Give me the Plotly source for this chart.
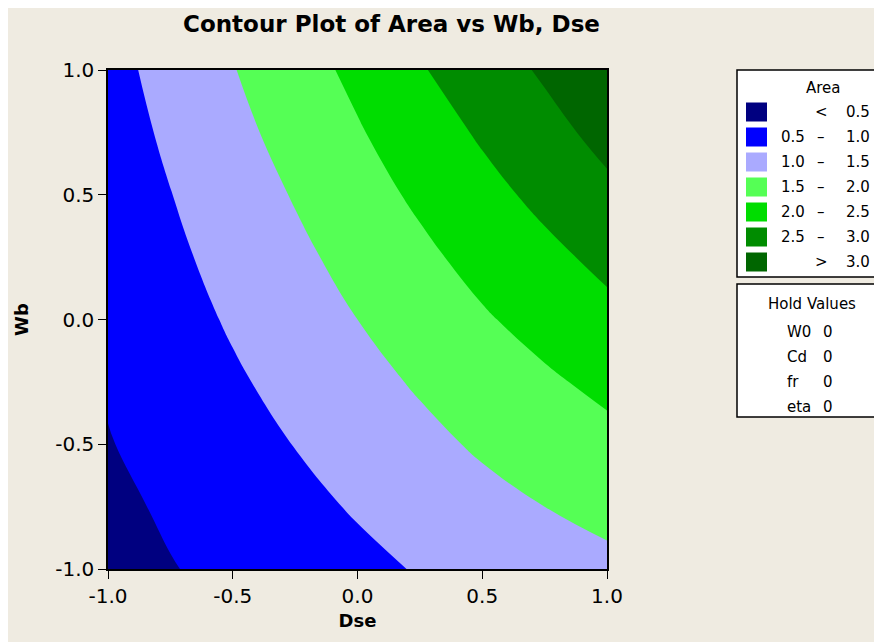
import plotly.graph_objects as go

# ---- data ----
dse = [-1.0, -0.75, -0.5, -0.25, 0.0, 0.25, 0.5, 0.75, 1.0]
wb = [-1.0, -0.75, -0.5, -0.25, 0.0, 0.25, 0.5, 0.75, 1.0]
# rows follow wb, columns follow dse
area = [
    [0.34, 0.48, 0.61, 0.75, 0.89, 1.03, 1.16, 1.28, 1.39],
    [0.40, 0.56, 0.72, 0.88, 1.04, 1.20, 1.36, 1.50, 1.63],
    [0.48, 0.65, 0.83, 1.01, 1.19, 1.38, 1.56, 1.71, 1.87],
    [0.54, 0.73, 0.94, 1.14, 1.35, 1.55, 1.75, 1.93, 2.11],
    [0.60, 0.82, 1.05, 1.27, 1.50, 1.73, 1.95, 2.16, 2.37],
    [0.66, 0.91, 1.15, 1.40, 1.65, 1.90, 2.15, 2.38, 2.62],
    [0.72, 0.99, 1.26, 1.53, 1.81, 2.08, 2.35, 2.62, 2.90],
    [0.78, 1.08, 1.37, 1.67, 1.96, 2.26, 2.56, 2.85, 3.14],
    [0.85, 1.16, 1.48, 1.80, 2.11, 2.46, 2.77, 3.06, 3.38],
]
level_start, level_end, level_step = 0.5, 3.0, 0.5
band_low = ["", "0.5", "1.0", "1.5", "2.0", "2.5", ""]
band_sym = ["<", "\u2013", "\u2013", "\u2013", "\u2013", "\u2013", ">"]
band_high = ["0.5", "1.0", "1.5", "2.0", "2.5", "3.0", "3.0"]
band_colors = ["#000080", "#0000FF", "#AAAAFF", "#55FF55", "#00DD00", "#008C00", "#006600"]
hold_names = ["W0", "Cd", "fr", "eta"]
hold_values = ["0", "0", "0", "0"]
tick_vals = [-1.0, -0.5, 0.0, 0.5, 1.0]
tick_text = ["-1.0", "-0.5", "0.0", "0.5", "1.0"]

W, H = 882, 642
OFF = 8  # default page body margin
# plot frame as seen on screen
SL, SR, ST, SB = 108, 607, 70, 569
BG = "#EFEBE1"
FONT = "DejaVu Sans"


def px(x):
    return (x - SL) / (SR - SL)


def py(y):
    return (SB - y) / (SB - ST)


n = len(band_colors)
colorscale = [[i / (n - 1), c] for i, c in enumerate(band_colors)]

fig = go.Figure(
    go.Contour(
        x=dse, y=wb, z=area,
        contours=dict(start=level_start, end=level_end, size=level_step,
                      coloring="fill", showlines=False),
        colorscale=colorscale,
        line=dict(width=0, smoothing=1.3),
        showscale=False,
        hoverinfo="skip",
    )
)

axis_common = dict(
    range=[-1, 1], tickvals=tick_vals, ticktext=tick_text,
    ticks="outside", ticklen=8, tickwidth=1.2, tickcolor="black",
    showline=True, linecolor="black", linewidth=1.5, mirror=True,
    showgrid=False, zeroline=False,
    tickfont=dict(family=FONT, size=20, color="black"),
)
fig.update_xaxes(**axis_common, title=dict(text="<b>Dse</b>", standoff=8,
                 font=dict(family=FONT, size=18, color="black")))
fig.update_yaxes(**axis_common, title=dict(text="<b>Wb</b>", standoff=22,
                 font=dict(family=FONT, size=18, color="black")))

shapes = []
annotations = []
LF = 15


def text(t, x, y, anchor="center"):
    annotations.append(dict(text=t, x=px(x), y=py(y), xref="paper", yref="paper",
                            showarrow=False, xanchor=anchor, yanchor="middle",
                            font=dict(family=FONT, size=LF, color="black")))


# legend box for Area
shapes.append(dict(type="rect", xref="paper", yref="paper",
                   x0=px(737), x1=px(905), y0=py(277), y1=py(70),
                   line=dict(color="black", width=1.5), fillcolor="white", layer="below"))
text("Area", 823, 88)
for i in range(n):
    yc = 112 + 25 * i
    shapes.append(dict(type="rect", xref="paper", yref="paper",
                       x0=px(746), x1=px(767), y0=py(yc + 9.5), y1=py(yc - 9.5),
                       line=dict(width=0), fillcolor=band_colors[i]))
    if band_low[i]:
        text(band_low[i], 793, yc)
    text(band_sym[i], 821, yc)
    text(band_high[i], 858, yc)

# Hold values box
shapes.append(dict(type="rect", xref="paper", yref="paper",
                   x0=px(737), x1=px(905), y0=py(417), y1=py(284),
                   line=dict(color="black", width=1.5), fillcolor="white", layer="below"))
text("Hold Values", 812, 304)
for i, (nm, vv) in enumerate(zip(hold_names, hold_values)):
    yc = 332 + 25 * i
    text(nm, 785, yc, "left")
    text(vv, 828, yc)

fig.update_layout(
    width=W, height=H,
    margin=dict(l=SL - OFF, r=W - (SR - OFF), t=ST - OFF, b=H - (SB - OFF)),
    paper_bgcolor=BG, plot_bgcolor=BG,
    title=dict(text="<b>Contour Plot of Area vs Wb, Dse</b>", x=(391.5 - OFF) / W, xanchor="center",
               y=1 - (24 - OFF) / H, yanchor="middle",
               font=dict(family=FONT, size=23, color="black")),
    shapes=shapes, annotations=annotations,
    showlegend=False,
)

fig.write_html("out.html")
